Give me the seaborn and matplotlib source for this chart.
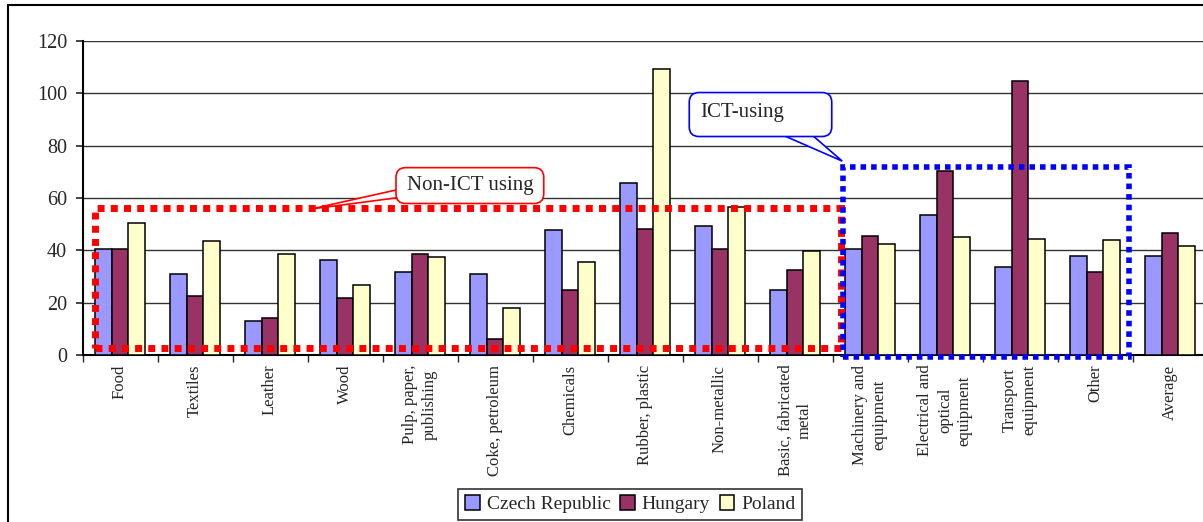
import matplotlib
matplotlib.use("Agg")
import matplotlib.pyplot as plt
from matplotlib.patches import Rectangle, FancyBboxPatch, Polygon
import numpy as np
import pandas as pd
import seaborn as sns

# data
sectors = [
    "Food", "Textiles", "Leather", "Wood", "Pulp, paper,\npublishing",
    "Coke, petroleum", "Chemicals", "Rubber, plastic", "Non-metallic",
    "Basic, fabricated\nmetal", "Machinery and\nequipment",
    "Electrical and\noptical\nequipment", "Transport\nequipment", "Other", "Average",
]
czech = [40.5, 31.1, 13.1, 36.4, 31.6, 31.1, 47.6, 65.6, 49.3, 24.8, 40.6, 53.5, 33.8, 38.0, 38.0]
hungary = [40.5, 22.7, 14.3, 21.7, 38.6, 6.1, 24.8, 48.2, 40.6, 32.4, 45.4, 70.3, 104.8, 31.6, 46.6]
poland = [50.3, 43.4, 38.6, 26.9, 37.5, 18.0, 35.4, 109.2, 56.7, 39.7, 42.3, 45.0, 44.5, 43.9, 41.8]
countries = ["Czech Republic", "Hungary", "Poland"]
colors = ["#9999FF", "#993366", "#FFFFCC"]

df = pd.DataFrame({
    "sector": sectors * 3,
    "country": np.repeat(countries, len(sectors)),
    "value": czech + hungary + poland,
})

sns.set_style("white")
plt.rcParams["font.family"] = ["Liberation Serif", "DejaVu Serif"]

fig = plt.figure(figsize=(12.03, 5.22), dpi=100)
ax = fig.add_axes([82.5 / 1203, 167 / 522, 1125 / 1203, 314 / 522])

sns.barplot(
    data=df, x="sector", y="value", hue="country", palette=colors, saturation=1,
    width=0.667, gap=0, edgecolor="black", linewidth=1.1, ax=ax, zorder=3,
)

ax.set_xlim(-0.5, len(sectors) - 0.5)
ax.set_ylim(0, 120)
ax.set_yticks(range(0, 121, 20))
ax.tick_params(axis="y", labelsize=14.5, length=5, width=1.2, direction="out", left=True, pad=6)
ax.yaxis.grid(True, color="#333333", linewidth=1)
ax.set_axisbelow(True)

ax.set_xticks(np.arange(-0.5, len(sectors), 1))
ax.set_xticklabels([])
ax.tick_params(axis="x", which="major", length=5, width=1, bottom=True, direction="out")
ax.set_xticks(np.arange(len(sectors)), minor=True)
ax.set_xticklabels(sectors, minor=True, rotation=90, fontsize=12, va="top",
                   ha="center", multialignment="center", linespacing=1.3)
ax.tick_params(axis="x", which="minor", length=0, pad=7)
ax.set_xlabel("")
ax.set_ylabel("")

for s in ["top", "right"]:
    ax.spines[s].set_visible(False)
ax.spines["left"].set_color("black")
ax.spines["left"].set_linewidth(1.5)
ax.spines["bottom"].set_color("black")
ax.spines["bottom"].set_linewidth(1.5)

# dotted group frames
ax.add_patch(Rectangle((-0.34, 2.7), 9.95, 53.5, fill=False, edgecolor="red",
                       linewidth=5, linestyle=(0, (1, 0.9)), zorder=5, clip_on=False))
ax.add_patch(Rectangle((9.64, -0.8), 3.81, 72.6, fill=False, edgecolor="blue",
                       linewidth=4, linestyle=(0, (1, 0.9)), zorder=5, clip_on=False))

# callouts
asp = 75 / 2.6167
ax.add_patch(Polygon([(3.75, 63.5), (2.55, 55.8), (3.75, 60.3)], closed=True,
                     facecolor="white", edgecolor="red", linewidth=1.2, zorder=6))
ax.add_patch(FancyBboxPatch((3.68, 57.9), 1.97, 13.7,
                            boxstyle="round,pad=0,rounding_size=0.13", mutation_aspect=asp,
                            facecolor="white", edgecolor="red", linewidth=1.2, zorder=7))
ax.text(4.67, 64.8, "Non-ICT using", fontsize=15, ha="center", va="center", zorder=8)

ax.add_patch(Polygon([(8.72, 85.5), (9.63, 74.1), (9.17, 85.5)], closed=True,
                     facecolor="white", edgecolor="blue", linewidth=1.2, zorder=6))
ax.add_patch(FancyBboxPatch((7.59, 83.5), 1.9, 16.8,
                            boxstyle="round,pad=0,rounding_size=0.13", mutation_aspect=asp,
                            facecolor="white", edgecolor="blue", linewidth=1.2, zorder=7))
ax.text(7.74, 92.5, "ICT-using", fontsize=15, ha="left", va="center", zorder=8)

# legend
handles, labels = ax.get_legend_handles_labels()
ax.get_legend().remove()
fig.legend(handles, labels, loc="lower center", bbox_to_anchor=(0.524, 0.0), ncol=3,
           fontsize=14, frameon=True, fancybox=False, edgecolor="black",
           handlelength=0.75, handleheight=0.75, handletextpad=0.35,
           columnspacing=0.5, borderpad=0.35, borderaxespad=0.1)
fig.legends[0].get_frame().set_linewidth(1.2)

# outer chart frame
fig.patches.append(Rectangle((8 / 1203, -0.1), 1.2, 1.1 - 5 / 522, transform=fig.transFigure,
                             fill=False, edgecolor="black", linewidth=1.5))

fig.savefig("out.png", dpi=100)
